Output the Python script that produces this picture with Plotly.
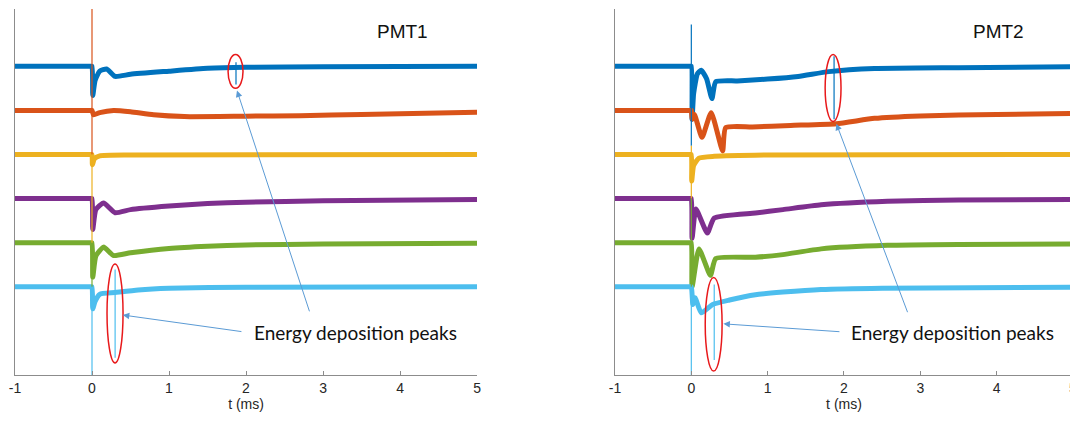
import plotly.graph_objects as go
from plotly.subplots import make_subplots

# channel colours (top to bottom) and vertical offsets
colors = ["#0072BD", "#D95319", "#EDB120", "#7E2F8E", "#77AC30", "#4DBEEE"]
offsets = [6, 5, 4, 3, 2, 1]

# PMT1 signals: time (ms) and deviation from baseline
p1_blue_t = [-1, -0.5, -0.02, 0, 0.01, 0.04, 0.1, 0.19, 0.3, 0.5, 1.0, 1.5, 2.0, 3.0, 5.0]
p1_blue_v = [0, 0, 0, 0, -0.66, -0.32, -0.11, -0.06, -0.23, -0.18, -0.11, -0.045, -0.02, -0.01, 0]
p1_orange_t = [-1, -0.5, -0.02, 0, 0.02, 0.1, 0.28, 0.5, 0.8, 1.2, 2.0, 2.7, 3.5, 5.0]
p1_orange_v = [0, 0, 0, 0, -0.1, -0.05, 0, -0.03, -0.1, -0.14, -0.13, -0.12, -0.09, -0.04]
p1_yellow_t = [-1, -0.5, -0.02, 0, 0.005, 0.03, 0.1, 0.5, 5.0]
p1_yellow_v = [0, 0, 0, 0, -0.23, -0.1, -0.03, -0.01, 0]
p1_purple_t = [-1, -0.5, -0.02, 0, 0.01, 0.05, 0.15, 0.3, 0.5, 1.0, 1.5, 2.0, 3.0, 5.0]
p1_purple_v = [0, 0, 0, 0, -0.7, -0.25, -0.1, -0.32, -0.25, -0.17, -0.11, -0.08, -0.05, -0.02]
p1_green_t = [-1, -0.5, -0.02, 0, 0.01, 0.05, 0.15, 0.28, 0.5, 1.0, 1.5, 2.0, 3.0, 5.0]
p1_green_v = [0, 0, 0, 0, -0.78, -0.3, -0.1, -0.29, -0.23, -0.13, -0.08, -0.05, -0.03, -0.01]
p1_cyan_t = [-1, -0.5, -0.02, 0, 0.01, 0.04, 0.1, 0.3, 0.6, 1.0, 2.0, 5.0]
p1_cyan_v = [0, 0, 0, 0, -0.5, -0.33, -0.17, -0.13, -0.07, -0.03, -0.01, 0]

# PMT2 signals
p2_blue_t = [-1, -0.5, -0.02, 0, 0.01, 0.03, 0.08, 0.13, 0.2, 0.27, 0.32, 0.6, 1.0, 1.4, 1.8, 2.4, 3.5, 5.0]
p2_blue_v = [0, 0, 0, 0, -1.2, -0.62, -0.17, -0.09, -0.28, -0.73, -0.35, -0.33, -0.29, -0.23, -0.12, -0.05, -0.03, -0.01]
p2_orange_t = [-1, -0.5, -0.02, 0, 0.01, 0.04, 0.14, 0.26, 0.41, 0.45, 0.8, 1.3, 1.9, 2.4, 3.0, 4.0, 5.0]
p2_orange_v = [0, 0, 0, 0, -0.2, -0.09, -0.61, -0.05, -0.92, -0.39, -0.375, -0.34, -0.3, -0.18, -0.125, -0.09, -0.07]
p2_yellow_t = [-1, -0.5, -0.02, 0, 0.005, 0.03, 0.1, 0.3, 1.0, 5.0]
p2_yellow_v = [0, 0, 0, 0, -0.6, -0.25, -0.08, -0.04, -0.01, 0]
p2_purple_t = [-1, -0.5, -0.02, 0, 0.01, 0.06, 0.21, 0.3, 0.84, 1.2, 1.7, 2.57, 3.5, 5.0]
p2_purple_v = [0, 0, 0, 0, -0.9, -0.235, -0.78, -0.44, -0.325, -0.25, -0.14, -0.06, -0.03, -0.02]
p2_green_t = [-1, -0.5, -0.02, 0, 0.01, 0.1, 0.25, 0.32, 0.84, 1.2, 1.7, 2.57, 3.5, 5.0]
p2_green_v = [0, 0, 0, 0, -1.0, -0.14, -0.74, -0.36, -0.33, -0.27, -0.14, -0.06, -0.04, -0.03]
p2_cyan_t = [-1, -0.5, -0.02, 0, 0.02, 0.05, 0.13, 0.28, 0.5, 0.84, 1.2, 1.7, 2.5, 5.0]
p2_cyan_v = [0, 0, 0, 0, -0.4, -0.25, -0.59, -0.4, -0.3, -0.18, -0.12, -0.06, -0.03, -0.01]

pmt1 = [(p1_blue_t, p1_blue_v), (p1_orange_t, p1_orange_v), (p1_yellow_t, p1_yellow_v),
        (p1_purple_t, p1_purple_v), (p1_green_t, p1_green_v), (p1_cyan_t, p1_cyan_v)]
pmt2 = [(p2_blue_t, p2_blue_v), (p2_orange_t, p2_orange_v), (p2_yellow_t, p2_yellow_v),
        (p2_purple_t, p2_purple_v), (p2_green_t, p2_green_v), (p2_cyan_t, p2_cyan_v)]

# thin vertical spikes: (t, top, bottom, colour index)
p1_spikes = [(0, 7.3, 4.0, 1), (0, 4.0, 2.0, 2), (0, 2.0, 1.0, 4), (0, 1.0, -1.0, 5),
             (1.87, 6.09, 5.59, 0), (0.30, 1.39, -0.61, 5)]
p2_spikes = [(0, 6.95, 4.2, 0), (0, 4.2, 3.0, 2), (0, 3.0, 1.0, 4), (0, 1.0, -1.0, 5),
             (1.87, 6.23, 4.80, 0), (0.30, 1.05, -0.66, 5)]

# red ellipses: x0, x1, y0, y1
p1_rings = [(1.767, 1.961, 5.5, 6.27), (0.195, 0.403, -0.727, 1.52)]
p2_rings = [(1.753, 1.961, 4.75, 6.27), (0.182, 0.403, -0.91, 1.21)]

# arrows: head (x, y), tail (x, y)
p1_arrows = [(1.883, 5.45, 2.83, 0.41), (0.40, 0.36, 1.96, -0.02)]
p2_arrows = [(1.90, 4.70, 2.84, 0.39), (0.42, 0.16, 1.96, -0.02)]

tick_vals = [-1, 0, 1, 2, 3, 4, 5]
tick_text = ["-1", "0", "1", "2", "3", "4", "5"]

fig = make_subplots(rows=1, cols=2)

for col, signals, spikes in [(1, pmt1, p1_spikes), (2, pmt2, p2_spikes)]:
    for i, (t, v) in enumerate(signals):
        fig.add_trace(go.Scatter(
            x=t, y=[offsets[i] + d for d in v], mode="lines",
            line=dict(color=colors[i], width=5, shape="spline", smoothing=0.5),
            showlegend=False, hoverinfo="skip"), row=1, col=col)
    for t, top, bot, ci in spikes:
        fig.add_trace(go.Scatter(
            x=[t, t], y=[top, bot], mode="lines",
            line=dict(color=colors[ci], width=1.2),
            showlegend=False, hoverinfo="skip"), row=1, col=col)

shapes = []
annotations = []
for xr, yr, rings, arrows, title in [("x", "y", p1_rings, p1_arrows, "PMT1"),
                                     ("x2", "y2", p2_rings, p2_arrows, "PMT2")]:
    for x0, x1, y0, y1 in rings:
        shapes.append(dict(type="circle", xref=xr, yref=yr, x0=x0, x1=x1, y0=y0, y1=y1,
                           line=dict(color="#E8191B", width=1.5)))
    for hx, hy, tx, ty in arrows:
        annotations.append(dict(x=hx, y=hy, ax=tx, ay=ty, xref=xr, yref=yr, axref=xr, ayref=yr,
                                text="", showarrow=True, arrowhead=2, arrowsize=1.3,
                                arrowwidth=1, arrowcolor="#5B9BD5"))
    annotations.append(dict(x=3.42, y=-0.04, xref=xr, yref=yr, text="Energy deposition peaks",
                            showarrow=False, font=dict(family="Lato", size=19, color="#111111")))
    annotations.append(dict(x=4.03, y=6.80, xref=xr, yref=yr, text=title, showarrow=False,
                            font=dict(family="Liberation Sans", size=19, color="#111111")))

axis_x = dict(range=[-1, 5], tickvals=tick_vals, ticktext=tick_text, showgrid=False, zeroline=False,
              showline=True, linecolor="#8c8c8c", linewidth=1, ticks="inside", ticklen=4,
              tickcolor="#8c8c8c", automargin=False, ticklabeloverflow="allow",
              tickfont=dict(family="Liberation Sans", size=14, color="#262626"),
              title=dict(text="t (ms)", font=dict(family="Liberation Sans", size=14, color="#262626"),
                         standoff=4))
axis_y = dict(range=[-1, 7.3], showgrid=False, zeroline=False, showline=True, linecolor="#8c8c8c",
              linewidth=1, showticklabels=False, ticks="", automargin=False)

fig.update_xaxes(**axis_x)
fig.update_yaxes(**axis_y)
fig.update_layout(xaxis=dict(domain=[0, 0.4367]), xaxis2=dict(domain=[0.5671, 1.0]))
# page has an 8 px body margin, so the figure is a bit smaller than the window
fig.update_layout(width=1070, height=413, margin=dict(l=7, r=5, t=1, b=46),
                  plot_bgcolor="white", paper_bgcolor="white",
                  shapes=shapes, annotations=annotations)

fig.write_html("out.html")
